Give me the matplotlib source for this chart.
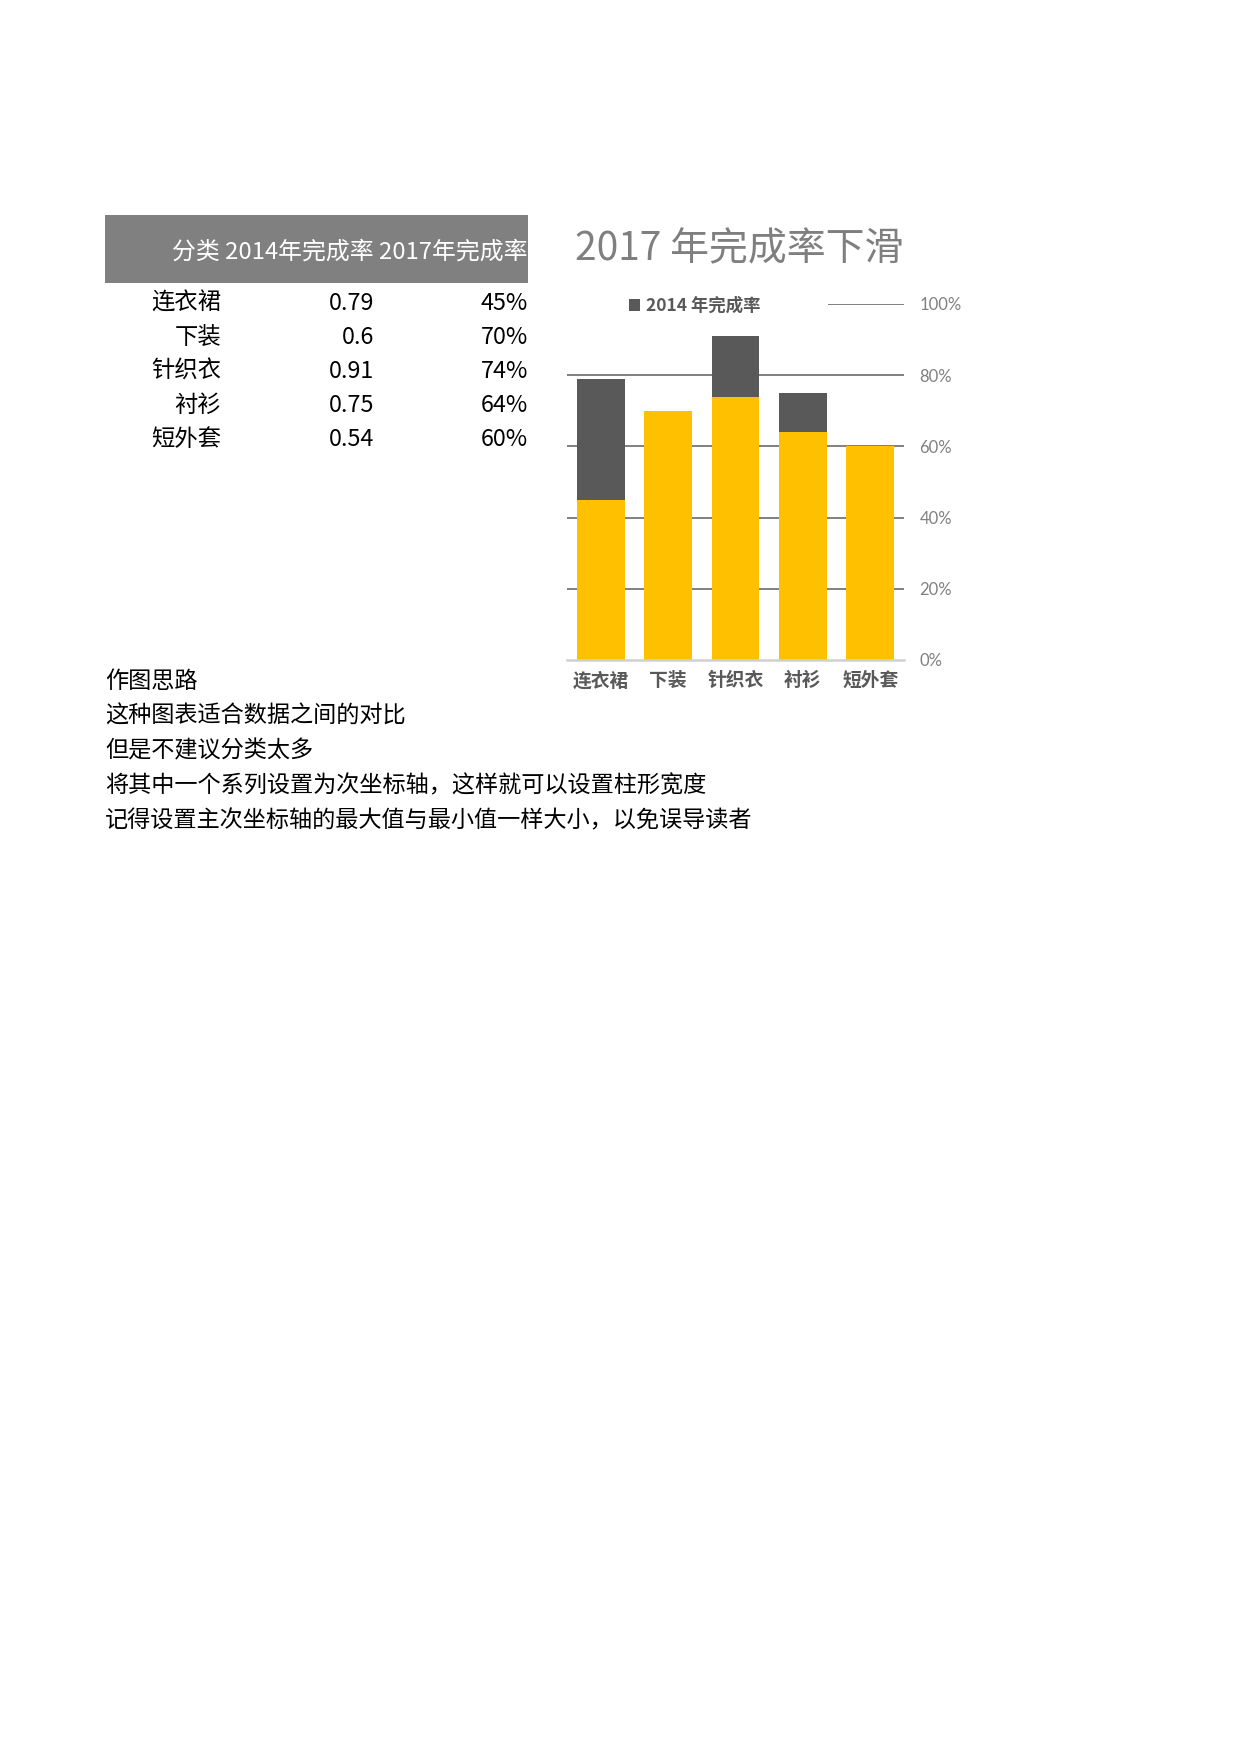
import matplotlib
matplotlib.use("Agg")
import matplotlib.pyplot as plt
from matplotlib.patches import Rectangle
from matplotlib.ticker import PercentFormatter

plt.rcParams['font.family'] = ['Noto Sans CJK SC', 'DejaVu Sans']

# ---- data ----
categories = ["连衣裙", "下装", "针织衣", "衬衫", "短外套"]
rate_2014 = [0.79, 0.6, 0.91, 0.75, 0.54]
rate_2017 = [0.45, 0.70, 0.74, 0.64, 0.60]
header = "分类 2014年完成率 2017年完成率"
notes = ["作图思路",
         "这种图表适合数据之间的对比",
         "但是不建议分类太多",
         "将其中一个系列设置为次坐标轴，这样就可以设置柱形宽度",
         "记得设置主次坐标轴的最大值与最小值一样大小，以免误导读者"]
yticks = [0, 0.2, 0.4, 0.6, 0.8, 1.0]

W, H = 1240, 1754
fig = plt.figure(figsize=(W / 100, H / 100), dpi=100)
fig.patch.set_facecolor("white")

def fx(px):
    return px / W

def fy(py):
    return 1 - py / H

# ---- table on the left ----
fig.patches.append(Rectangle((fx(105), fy(283)), fx(528) - fx(105), fy(215) - fy(283),
                             transform=fig.transFigure, facecolor="#808080", edgecolor="none"))
fig.text(fx(528), fy(252), header, ha="right", va="center", fontsize=17.2, color="white")

for i, cat in enumerate(categories):
    y = fy(303 + i * 34.2)
    fig.text(fx(221), y, cat, ha="right", va="center", fontsize=16.8, color="black")
    fig.text(fx(374), y, f"{rate_2014[i]:g}", ha="right", va="center", fontsize=16.8, color="black")
    fig.text(fx(528), y, f"{rate_2017[i]:.0%}", ha="right", va="center", fontsize=16.8, color="black")

for i, line in enumerate(notes):
    fig.text(fx(105), fy(682 + i * 34.6), line, ha="left", va="center", fontsize=16.7, color="black")

# ---- chart ----
fig.text(fx(575), fy(249), "2017 年完成率下滑", ha="left", va="center", fontsize=28, color="#7f7f7f")

ax = fig.add_axes([fx(567), fy(660), fx(904) - fx(567), fy(304) - fy(660)])
x = range(len(categories))
b14 = ax.bar(x, rate_2014, width=0.71, color="#595959", zorder=2, label="2014 年完成率")
ax.bar(x, rate_2017, width=0.71, color="#FFC000", zorder=3)

ax.set_xlim(-0.5, len(categories) - 0.5)
ax.set_ylim(0, 1.0)
ax.set_yticks(yticks)
ax.yaxis.set_major_formatter(PercentFormatter(1.0, decimals=0))
ax.yaxis.tick_right()
ax.tick_params(axis="y", length=0, pad=11, labelsize=12, labelcolor="#808080")
ax.tick_params(axis="x", length=0, pad=8, labelsize=13.5, labelcolor="#595959")
ax.set_xticks(list(x))
ax.set_xticklabels(categories, fontweight="bold")
for lab in ax.get_yticklabels():
    lab.set_family(['Lato', 'Noto Sans CJK SC'])

ax.yaxis.grid(True, color="#808080", linewidth=1.4, zorder=0)
ax.set_axisbelow(True)
ax.get_ygridlines()[0].set_visible(False)
for s in ["top", "left", "right"]:
    ax.spines[s].set_visible(False)
ax.spines["bottom"].set_color("#d0d0d0")
ax.spines["bottom"].set_linewidth(1.8)
ax.spines["bottom"].set_zorder(4)

# legend sits over the top gridline
ax.add_patch(Rectangle((0, 0.97), 0.775, 0.06, transform=ax.transAxes, facecolor="white",
                       edgecolor="none", zorder=5, clip_on=False))
leg = ax.legend(handles=[b14], loc="center left", bbox_to_anchor=(0.183, 0.994),
                frameon=False, handlelength=0.65, handleheight=0.65, handletextpad=0.35,
                borderpad=0, borderaxespad=0, prop={"size": 12.5, "weight": "bold"})
leg.set_zorder(6)
for t in leg.get_texts():
    t.set_color("#595959")

fig.savefig("out.png", dpi=100, facecolor="white")
